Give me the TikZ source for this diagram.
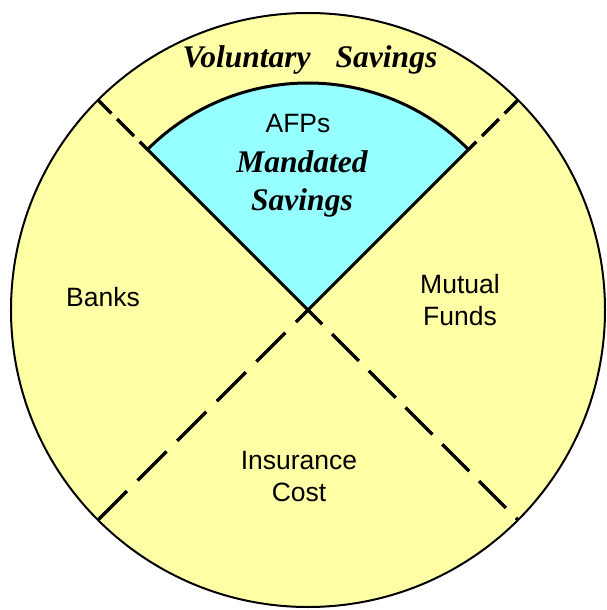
\documentclass[tikz,border=0pt]{standalone}
\usepackage{fontspec}
\setmainfont{Liberation Serif}
\setsansfont{Liberation Sans}
\usepackage{tikz}
\definecolor{paleyellow}{RGB}{255,255,165}
\definecolor{palecyan}{RGB}{150,255,255}
\tikzset{
    rim/.style={draw=black, line width=2pt, fill=paleyellow},
    sector/.style={draw=black, line width=3pt, fill=palecyan, line join=round},
    divider/.style={line width=3.2pt, dash pattern=on 38pt off 14pt},
    shortdiv/.style={line width=3.2pt, dash pattern=on 24pt off 8pt, dash phase=5pt},
    plain/.style={font=\sffamily\fontsize{26.5}{32}\selectfont, align=center},
    emph/.style={font=\rmfamily\bfseries\itshape\fontsize{31.5}{38}\selectfont, align=center}
}

\begin{document}
\begin{tikzpicture}[x=1pt, y=1pt]
    \useasboundingbox (-308,-300) rectangle (298,310);
    \coordinate (o) at (0,0);
    % corners of the mandated sector and points on the rim
    \coordinate (ne) at (45:227);
    \coordinate (nw) at (135:227);
    \coordinate (rimne) at (45:297);
    \coordinate (rimnw) at (135:297);
    \coordinate (rimse) at (-45:297);
    \coordinate (rimsw) at (-135:297);

    \path[rim] (o) circle[radius=297];
    \path[sector] (o) -- (ne) arc[start angle=45, end angle=135, radius=227] -- cycle;

    \draw[shortdiv] (rimne) -- (ne);
    \draw[shortdiv] (rimnw) -- (nw);
    \draw[divider, dash phase=18pt] (o) -- (rimse);
    \draw[divider, dash pattern=on 41pt off 15pt] (rimsw) -- (o);

    \node (vol) [emph] at (2,250) {Voluntary\hspace{0.8em}Savings};
    \node (afp) [plain] at (-10,186) {AFPs};
    \node (mand) [emph] at (-6,126) {Mandated\\Savings};
    \node (banks) [plain] at (-205,13) {Banks};
    \node (mutual) [plain] at (152,10) {Mutual\\Funds};
    \node (ins) [plain] at (-9,-167) {Insurance\\Cost};
\end{tikzpicture}
\end{document}
